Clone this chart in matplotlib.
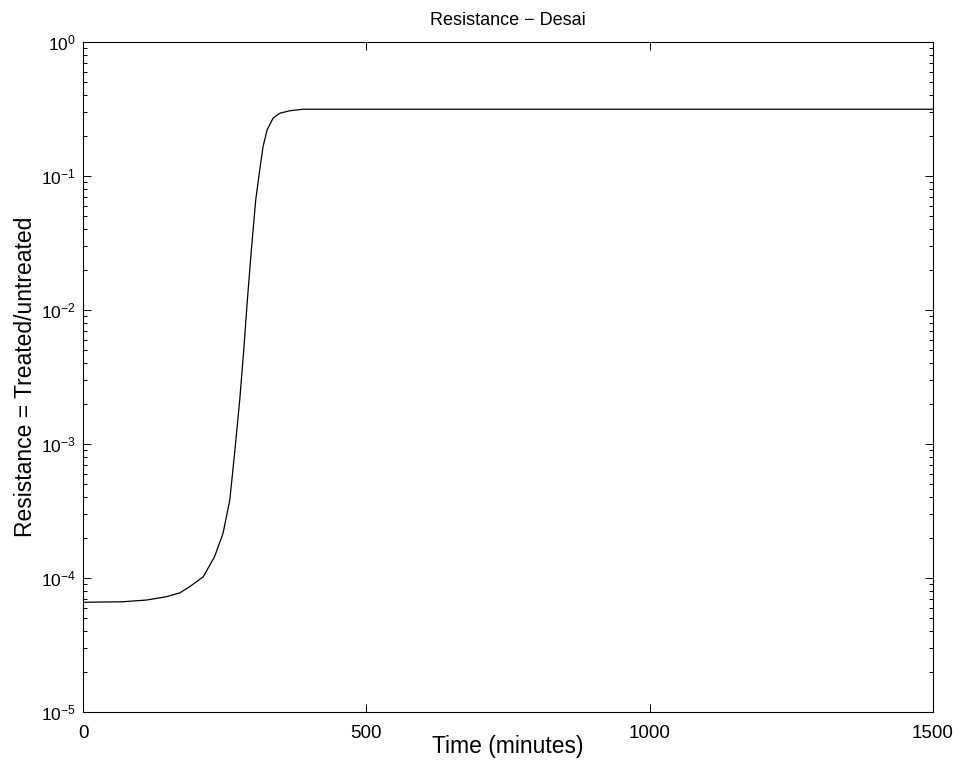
import numpy as np
import matplotlib.pyplot as plt

plt.rcParams['font.family'] = ['Liberation Sans', 'DejaVu Sans']
plt.rcParams['mathtext.fontset'] = 'custom'
plt.rcParams['mathtext.rm'] = 'Liberation Sans'
plt.rcParams['mathtext.it'] = 'Liberation Sans'

# --- values ---
time_min = [0, 70, 112, 147, 171, 188, 212, 232, 247, 259, 268, 276.5, 283.6,
            290, 297, 304.7, 311.8, 317.7, 324.8, 335.3, 347, 365, 388, 1500]
resistance = [6.59e-5, 6.65e-5, 6.85e-5, 7.25e-5, 7.76e-5, 8.61e-5, 1.02e-4,
              1.44e-4, 2.15e-4, 3.82e-4, 9.02e-4, 2.13e-3, 5.03e-3, 1.19e-2,
              2.80e-2, 6.62e-2, 0.111, 0.166, 0.221, 0.270, 0.294, 0.307,
              0.315, 0.315]

x_ticks = [0, 500, 1000, 1500]

fig = plt.figure(figsize=(9.59, 7.71), dpi=100)
ax = fig.add_axes([0.0866, 0.0765, 0.8863, 0.869])

ax.plot(time_min, resistance, color='black', linewidth=0.9)
ax.set_yscale('log')
ax.set_xlim(0, 1500)
ax.set_ylim(1e-5, 1e0)
ax.set_xticks(x_ticks)

ax.tick_params(which='both', direction='in', top=True, right=True, width=0.7)
ax.tick_params(which='major', length=6)
ax.tick_params(which='minor', length=3)
ax.tick_params(axis='x', which='minor', bottom=False, top=False)
ax.tick_params(axis='x', labelsize=13.5, pad=9)
ax.tick_params(axis='y', labelsize=12.5, pad=5)
for s in ax.spines.values():
    s.set_linewidth(0.8)

ax.set_title('Resistance \u2212 Desai', fontsize=13, pad=12)
ax.set_xlabel('Time (minutes)', fontsize=16.5, labelpad=-5)
ax.set_ylabel('Resistance = Treated/untreated', fontsize=16.5, labelpad=3)

fig.savefig('out.png', dpi=100)
